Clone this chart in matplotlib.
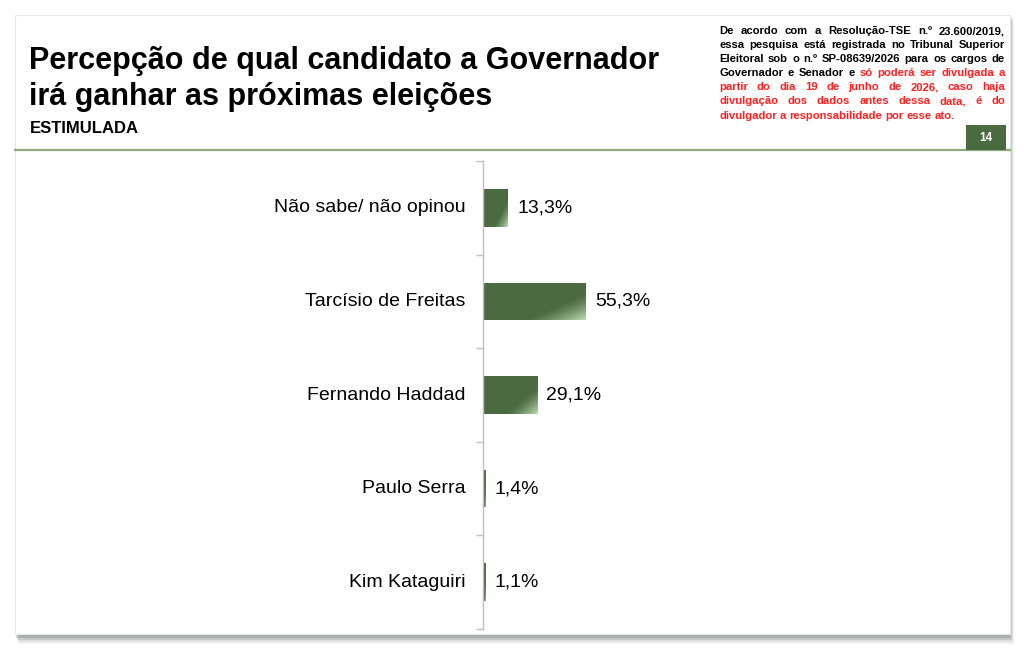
"""Bar chart: perception of which candidate will win the governor election."""

import matplotlib

matplotlib.use("Agg")

import matplotlib.pyplot as plt
import numpy as np
from matplotlib.colors import to_rgb
from matplotlib.patches import Rectangle

W, H = 1024, 652

categories = [
    "Não sabe/ não opinou",
    "Tarcísio de Freitas",
    "Fernando Haddad",
    "Paulo Serra",
    "Kim Kataguiri",
]
values = [13.3, 55.3, 29.1, 1.4, 1.1]
value_labels = ["13,3%", "55,3%", "29,1%", "1,4%", "1,1%"]

title_lines = ["Percepção de qual candidato a Governador", "irá ganhar as próximas eleições"]
subtitle = "ESTIMULADA"
page_number = "14"

# disclaimer lines: list of (text, is_red) chunks
notice_lines = [
    [("De acordo com a Resolução-TSE n.º 23.600/2019,", False)],
    [("essa pesquisa está registrada no Tribunal Superior", False)],
    [("Eleitoral sob o n.º SP-08639/2026 para os cargos de", False)],
    [("Governador e Senador e", False), ("só poderá ser divulgada a", True)],
    [("partir do dia 19 de junho de 2026, caso haja", True)],
    [("divulgação dos dados antes dessa data, é do", True)],
    [("divulgador a responsabilidade por esse ato.", True)],
]

DARK = "#4b6a41"
LIGHT = "#b9d9b0"
GREEN_LINE = "#8eaa7c"
RED = "#ff2020"
FONT = "Liberation Sans"


def fx(x):
    return x / W


def fy(y):
    return 1 - y / H


def draw_slide(fig):
    """Slide background with a soft shadow."""
    for i, a in enumerate([0.08, 0.12, 0.18, 0.25]):
        off = 8 - i * 2
        fig.patches.append(
            Rectangle((fx(15 + off / 2), fy(636 + off)), fx(995), (620 + off / 2) / H,
                      transform=fig.transFigure, facecolor="#606060", alpha=a,
                      edgecolor="none", zorder=0)
        )
    fig.patches.append(
        Rectangle((fx(15), fy(634)), fx(995), 619 / H, transform=fig.transFigure,
                  facecolor="white", edgecolor="#e2e8e2", linewidth=0.8, zorder=0.5)
    )
    fig.add_artist(plt.Line2D([fx(15), fx(1010)], [fy(150), fy(150)],
                              transform=fig.transFigure, color=GREEN_LINE, linewidth=1.6))
    fig.patches.append(
        Rectangle((fx(966), fy(150)), fx(40), 25 / H, transform=fig.transFigure,
                  facecolor="#4a6a40", edgecolor="none", zorder=2)
    )
    fig.text(fx(986), fy(138), page_number, color="white", fontsize=8.5, fontweight="bold",
             ha="center", va="center", family=FONT)


def draw_header(fig):
    fig.text(fx(29), fy(69), title_lines[0], fontsize=22, fontweight="bold",
             family=FONT, va="baseline")
    fig.text(fx(29), fy(105), title_lines[1], fontsize=22, fontweight="bold",
             family=FONT, va="baseline")
    fig.text(fx(30), fy(133), subtitle, fontsize=12, fontweight="bold",
             family=FONT, va="baseline")


def draw_notice(fig):
    """Justified disclaimer block in the top-right corner."""
    renderer = fig.canvas.get_renderer()
    x_left, x_right = 719, 1005
    y0, step = 34, 14.1
    kw = dict(fontsize=8.1, fontweight="bold", family=FONT, va="baseline")
    probe1 = fig.text(0, 0, "a a", **kw)
    probe2 = fig.text(0, 0, "aa", **kw)
    natural_gap = (probe1.get_window_extent(renderer).width
                   - probe2.get_window_extent(renderer).width)
    probe1.remove()
    probe2.remove()
    for li, chunks in enumerate(notice_lines):
        words = []
        for text, red in chunks:
            for w in text.split(" "):
                words.append((w, RED if red else "black"))
        y = fy(y0 + li * step)
        items = []
        for w, c in words:
            t = fig.text(0, y, w, color=c, **kw)
            items.append((t, t.get_window_extent(renderer).width))
        total = sum(wd for _, wd in items)
        if li == len(notice_lines) - 1:
            gap = natural_gap
        else:
            gap = (x_right - x_left - total) / (len(items) - 1)
        x = x_left
        for t, wd in items:
            t.set_x(fx(x))
            x += wd + gap


def gradient_bar(ax, y, width, height):
    """Dark green bar with a lighter lower-right corner."""
    nx, ny = 60, 30
    u = np.linspace(0, 1, nx)[None, :]
    v = np.linspace(0, 1, ny)[:, None]
    t = np.clip(((u * 0.55 + v * 0.45) - 0.68) / 0.32, 0, 1) ** 1.3
    d, l = np.array(to_rgb(DARK)), np.array(to_rgb(LIGHT))
    img = d[None, None, :] * (1 - t[..., None]) + l[None, None, :] * t[..., None]
    patch = Rectangle((0, y - height / 2), width, height, facecolor="none",
                      edgecolor="none")
    ax.add_patch(patch)
    im = ax.imshow(img, extent=(0, width, y + height / 2, y - height / 2),
                   origin="upper", aspect="auto", zorder=2, interpolation="bilinear")
    im.set_clip_path(patch)


def main():
    fig = plt.figure(figsize=(W / 100, H / 100), dpi=100)
    draw_slide(fig)
    draw_header(fig)
    draw_notice(fig)

    ax = fig.add_axes([fx(483), fy(629), 186 / W, 468 / H])
    ax.set_zorder(5)
    ax.set_facecolor("none")
    ypos = np.arange(len(categories))
    bar_h = 0.4
    for y, v in zip(ypos, values):
        gradient_bar(ax, y, v, bar_h)
    ax.set_xlim(0, 100)
    ax.set_ylim(len(categories) - 0.5, -0.5)

    for y, v, lab in zip(ypos, values, value_labels):
        ax.text(v + 5.0, y, lab, va="center", ha="left", fontsize=14, family=FONT,
                clip_on=False)

    for s in ["top", "right", "bottom"]:
        ax.spines[s].set_visible(False)
    ax.spines["left"].set_color("#bfbfbf")
    ax.spines["left"].set_linewidth(1.0)
    ax.set_xticks([])
    ax.set_yticks(np.arange(-0.5, len(categories), 1.0))
    ax.set_yticklabels([])
    ax.tick_params(axis="y", length=5, color="#bfbfbf", width=1.0)
    for y, name in zip(ypos, categories):
        ax.text(-9.5, y, name, ha="right", va="center", fontsize=14, family=FONT,
                clip_on=False)

    fig.savefig("out.png", dpi=100, facecolor="white")
    plt.close(fig)


if __name__ == "__main__":
    main()
